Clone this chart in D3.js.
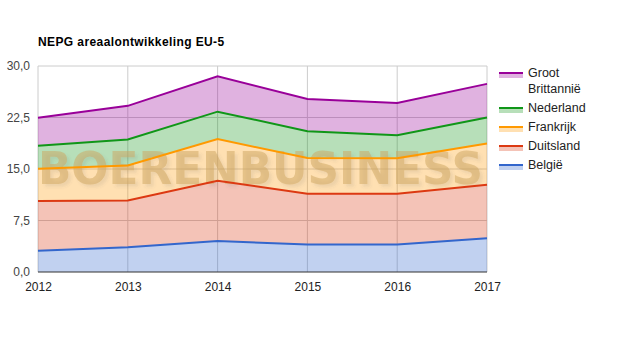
<!DOCTYPE html>
<html>
<head>
<meta charset="utf-8">
<script src="https://d3js.org/d3.v7.min.js"></script>
<style>
  body { margin: 0; background: #fff; }
  svg { font-family: Arial, "Liberation Sans", sans-serif; }
</style>
</head>
<body>
<svg id="drawing_region"></svg>
<script>
const years = [2012, 2013, 2014, 2015, 2016, 2017];
const belgie = [3.1, 3.6, 4.5, 4.0, 4.0, 4.9];
const duitsland = [7.25, 6.8, 8.8, 7.4, 7.4, 7.8];
const frankrijk = [4.7, 5.1, 6.05, 5.2, 5.15, 6.0];
const nederland = [3.35, 3.8, 4.0, 3.9, 3.35, 3.8];
const grootBrittannie = [4.05, 4.9, 5.15, 4.7, 4.7, 4.9];
const yTicks = [0, 7.5, 15, 22.5, 30];

const series = [
    {key: 'België', values: belgie, color: '#3366cc'},
    {key: 'Duitsland', values: duitsland, color: '#dc3912'},
    {key: 'Frankrijk', values: frankrijk, color: '#ff9900'},
    {key: 'Nederland', values: nederland, color: '#109618'},
    {key: 'Groot Brittannië', values: grootBrittannie, color: '#990099'}
];

class AreaChart {

    constructor( config, data ) {
        this.config = {
            parent: config.parent,
            width: config.width || 625,
            height: config.height || 350,
            margin: config.margin || {top:10, right:10, bottom:10, left:10}
        }
        this.data = data;
        this.init();
    }

    init() {
        let self = this;

        self.svg = d3.select( self.config.parent )
            .attr('width', self.config.width)
            .attr('height', self.config.height);

        self.inner_width = 449;
        self.inner_height = 206;

        self.chart = self.svg.append('g')
            .attr('transform', `translate(${self.config.margin.left}, ${self.config.margin.top})`);

        self.xscale = d3.scaleLinear()
            .domain( d3.extent(years) )
            .range( [0, self.inner_width] );

        self.yscale = d3.scaleLinear()
            .domain( [0, 30] )
            .range( [self.inner_height, 0] );

        // rows per year for d3.stack
        self.table = years.map( (y, i) => {
            let row = {year: y};
            self.data.forEach( s => { row[s.key] = s.values[i]; });
            return row;
        });

        self.stack = d3.stack().keys( self.data.map( s => s.key ) );
        self.layers = self.stack( self.table );

        self.area = d3.area()
            .x( d => self.xscale( d.data.year ) )
            .y0( d => self.yscale( d[0] ) )
            .y1( d => self.yscale( d[1] ) );

        self.line = d3.line()
            .x( d => self.xscale( d.data.year ) )
            .y( d => self.yscale( d[1] ) );
    }

    render() {
        let self = this;
        const fmt = v => d3.format('.1f')(v).replace('.', ',');

        const defs = self.svg.append('defs');
        defs.append('filter')
            .attr('id', 'shadow')
            .attr('x', '-5%').attr('y', '-20%')
            .attr('width', '115%').attr('height', '150%')
            .append('feDropShadow')
            .attr('dx', 3).attr('dy', 3)
            .attr('stdDeviation', 1.5)
            .attr('flood-color', '#555')
            .attr('flood-opacity', 0.2);

        self.svg.append('text')
            .attr('x', 38)
            .attr('y', 46)
            .attr('font-size', '12px')
            .attr('font-weight', 'bold')
            .attr('letter-spacing', '0.4px')
            .attr('fill', '#000')
            .text('NEPG areaalontwikkeling EU-5');

        // grid
        self.chart.append('g')
            .selectAll('line')
            .data(yTicks.slice(1))
            .join('line')
            .attr('x1', 0).attr('x2', self.inner_width)
            .attr('y1', d => self.yscale(d)).attr('y2', d => self.yscale(d))
            .attr('stroke', '#cccccc');

        self.chart.append('g')
            .selectAll('line')
            .data(years)
            .join('line')
            .attr('x1', d => self.xscale(d)).attr('x2', d => self.xscale(d))
            .attr('y1', 0).attr('y2', self.inner_height)
            .attr('stroke', '#cccccc');

        // areas
        self.chart.append('g')
            .selectAll('path')
            .data(self.layers)
            .join('path')
            .attr('d', self.area)
            .attr('fill', (d, i) => self.data[i].color)
            .attr('fill-opacity', 0.3);

        // watermark
        self.chart.append('text')
            .attr('font-family', '"DejaVu Sans", Verdana, sans-serif')
            .attr('font-size', '45px')
            .attr('font-weight', 'bold')
            .attr('x', 0).attr('y', 118)
            .attr('textLength', 445)
            .attr('lengthAdjust', 'spacingAndGlyphs')
            .attr('fill', 'rgba(205,165,95,0.5)')
            .attr('filter', 'url(#shadow)')
            .text('BOERENBUSINESS');

        // lines
        self.chart.append('g')
            .selectAll('path')
            .data(self.layers)
            .join('path')
            .attr('d', self.line)
            .attr('fill', 'none')
            .attr('stroke', (d, i) => self.data[i].color)
            .attr('stroke-width', 2);

        // baseline
        self.chart.append('line')
            .attr('x1', 0).attr('x2', self.inner_width)
            .attr('y1', self.inner_height).attr('y2', self.inner_height)
            .attr('stroke', '#333');

        // axes
        self.yaxis = d3.axisLeft( self.yscale )
            .tickValues( yTicks )
            .tickSize(0)
            .tickPadding(8)
            .tickFormat( fmt );
        self.chart.append('g')
            .call( self.yaxis )
            .call( g => g.select('.domain').remove() )
            .selectAll('text')
            .attr('font-size', '12px')
            .attr('font-family', 'Arial, "Liberation Sans", sans-serif')
            .attr('fill', '#444');

        self.xaxis = d3.axisBottom( self.xscale )
            .tickValues( years )
            .tickSize(0)
            .tickPadding(10)
            .tickFormat( d3.format('d') );
        self.chart.append('g')
            .attr('transform', `translate(0, ${self.inner_height})`)
            .call( self.xaxis )
            .call( g => g.select('.domain').remove() )
            .selectAll('text')
            .attr('font-size', '12px')
            .attr('font-family', 'Arial, "Liberation Sans", sans-serif')
            .attr('fill', '#222');

        // legend
        const legend = self.svg.append('g')
            .attr('transform', 'translate(499, 0)');
        const items = self.data.slice().reverse();
        const ys = [72, 107, 126, 145, 164];
        items.forEach( (s, i) => {
            const g = legend.append('g').attr('transform', `translate(0, ${ys[i]})`);
            g.append('rect')
                .attr('x', 0).attr('y', 0).attr('width', 24).attr('height', 6)
                .attr('fill', s.color).attr('fill-opacity', 0.3);
            g.append('line')
                .attr('x1', 0).attr('x2', 24).attr('y1', 1).attr('y2', 1)
                .attr('stroke', s.color).attr('stroke-width', 2);
            const words = s.key === 'Groot Brittannië' ? ['Groot', 'Brittannië'] : [s.key];
            words.forEach( (w, j) => {
                g.append('text')
                    .attr('x', 29).attr('y', 5 + j * 16)
                    .attr('font-size', '12.5px')
                    .attr('fill', '#222')
                    .text(w);
            });
        });
    }
}

const chart = new AreaChart({
    parent: '#drawing_region',
    width: 625,
    height: 350,
    margin: {top:66, right:138, bottom:78, left:38}
}, series);
chart.render();
</script>
</body>
</html>
